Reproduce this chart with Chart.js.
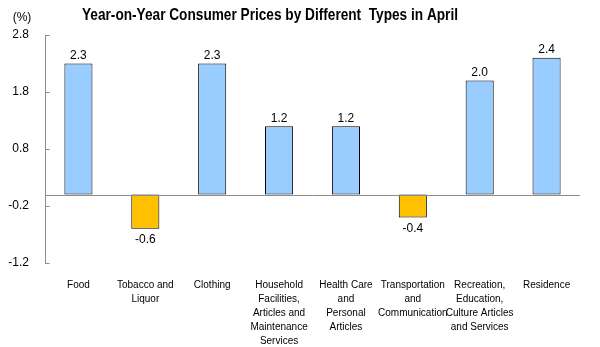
<!DOCTYPE html>
<html>
<head>
<meta charset="utf-8">
<script src="https://cdn.jsdelivr.net/npm/chart.js@4/dist/chart.umd.min.js"></script>
<style>
  html, body { margin: 0; padding: 0; background: #fff; }
  #wrap { width: 600px; height: 347px; position: relative; }
</style>
</head>
<body>
<div id="wrap"><canvas id="c" width="600" height="347"></canvas></div>
<script>
// Consumer price change by category, April (year-on-year, %)
const categories = [
  ["Food"],
  ["Tobacco and", "Liquor"],
  ["Clothing"],
  ["Household", "Facilities,", "Articles and", "Maintenance", "Services"],
  ["Health Care", "and", "Personal", "Articles"],
  ["Transportation", "and", "Communication"],
  ["Recreation,", "Education,", "Culture Articles", "and Services"],
  ["Residence"]
];
const values = [2.3, -0.6, 2.3, 1.2, 1.2, -0.4, 2.0, 2.4];
const yTicks = [-1.2, -0.2, 0.8, 1.8, 2.8];
const titleText = "Year-on-Year Consumer Prices by Different  Types in April";
const unitText = "(%)";

const FONT = "Arial, 'Liberation Sans', sans-serif";
const AXIS_GREY = '#8c8c8c';

// Zero reference line, inner tick marks, value labels, title and unit
const decorations = {
  id: 'decorations',
  afterDatasetsDraw(chart) {
    const { ctx, chartArea, scales } = chart;
    ctx.save();
    ctx.strokeStyle = AXIS_GREY;
    ctx.lineWidth = 1;

    const y0 = Math.round(scales.y.getPixelForValue(0)) + 0.5;
    ctx.beginPath();
    ctx.moveTo(chartArea.left, y0);
    ctx.lineTo(chartArea.right, y0);
    ctx.stroke();

    // short tick marks on the inner side of the value axis
    const ax = Math.round(chartArea.left) + 0.5;
    ctx.beginPath();
    yTicks.forEach(v => {
      const ty = Math.round(scales.y.getPixelForValue(v)) + 0.5;
      ctx.moveTo(ax, ty);
      ctx.lineTo(ax + 4, ty);
    });
    ctx.stroke();

    ctx.fillStyle = '#000';
    ctx.font = "12px " + FONT;
    ctx.textAlign = 'center';
    const meta = chart.getDatasetMeta(0);
    meta.data.forEach((bar, i) => {
      const v = values[i];
      const txt = v.toFixed(1);
      if (v >= 0) {
        ctx.textBaseline = 'bottom';
        ctx.fillText(txt, bar.x, bar.y - 2);
      } else {
        ctx.textBaseline = 'top';
        ctx.fillText(txt, bar.x, bar.y + 5);
      }
    });

    // condensed bold title
    ctx.font = "bold 17px " + FONT;
    ctx.textAlign = 'center';
    ctx.textBaseline = 'alphabetic';
    const w = ctx.measureText(titleText).width;
    const sx = 376 / w;
    ctx.save();
    ctx.translate(270, 20);
    ctx.scale(sx, 1);
    ctx.fillText(titleText, 0, 0);
    ctx.restore();

    ctx.font = "12px " + FONT;
    ctx.fillText(unitText, 22, 21);
    ctx.restore();
  }
};

new Chart(document.getElementById('c'), {
  type: 'bar',
  data: {
    labels: categories,
    datasets: [{
      data: values,
      backgroundColor: values.map(v => v < 0 ? '#FFC000' : '#99CCFF'),
      borderColor: '#000',
      borderWidth: 1,
      borderSkipped: false,
      categoryPercentage: 1,
      barPercentage: 0.42
    }]
  },
  options: {
    responsive: false,
    animation: false,
    devicePixelRatio: 1,
    layout: { padding: { top: 35, right: 20, left: 0, bottom: 0 } },
    plugins: { legend: { display: false }, tooltip: { enabled: false }, title: { display: false } },
    scales: {
      x: {
        grid: { display: false },
        border: { display: false },
        ticks: {
          color: '#000',
          font: { family: FONT, size: 10, lineHeight: 1.4 },
          padding: 7,
          maxRotation: 0,
          autoSkip: false
        },
        afterFit(scale) { scale.height = 84; }
      },
      y: {
        min: -1.2,
        max: 2.8,
        afterBuildTicks(axis) { axis.ticks = yTicks.map(v => ({ value: v })); },
        grid: { drawOnChartArea: false, drawTicks: false, tickLength: 0 },
        border: { display: true, color: AXIS_GREY },
        ticks: {
          color: '#000',
          font: { family: FONT, size: 12 },
          padding: 16,
          callback: v => Number(v).toFixed(1)
        },
        afterFit(scale) { scale.width = 45; }
      }
    }
  },
  plugins: [decorations]
});
</script>
</body>
</html>
